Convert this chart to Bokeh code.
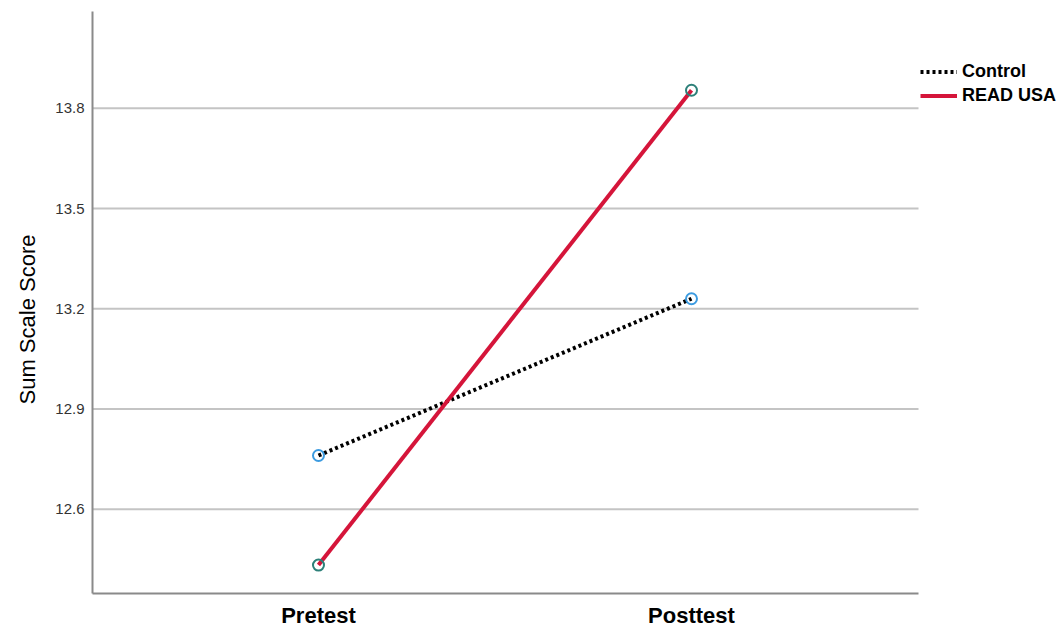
from bokeh.plotting import figure
from bokeh.models import Range1d, FixedTicker, Legend, LegendItem, Title
from bokeh.embed import file_html
from bokeh.resources import INLINE

categories = ["Pretest", "Posttest"]
control = [12.761, 13.230]
read_usa = [12.433, 13.854]
y_ticks = [12.6, 12.9, 13.2, 13.5, 13.8]
y_tick_labels = ["12.6", "12.9", "13.2", "13.5", "13.8"]
series_names = ["Control", "READ USA"]
y_title = "Sum Scale Score"

FONT = "Liberation Sans"

# category positions on a numeric axis (1, 2, ...)
xpos = list(range(1, len(categories) + 1))
X_START, X_END = 0.3941, 2.9893      # frame spans beyond the plot area to hold the legend
AREA_END = 2.6086                     # right edge of the visible plot area
Y_START, Y_END = 12.348, 14.0896

p = figure(
    width=1060, height=630,
    x_range=Range1d(X_START, X_END),
    y_range=Range1d(Y_START, Y_END),
    output_backend="svg", toolbar_location=None,
    min_border_left=92, min_border_right=0, min_border_top=11, min_border_bottom=36,
)
p.outline_line_color = None
p.background_fill_color = "white"
p.border_fill_color = "white"
p.xgrid.grid_line_color = None
p.ygrid.grid_line_color = None

# horizontal grid lines limited to the plot area
p.segment(x0=[X_START] * len(y_ticks), x1=[AREA_END] * len(y_ticks),
          y0=y_ticks, y1=y_ticks, line_color="#c4c4c4", line_width=2)

p.yaxis.ticker = FixedTicker(ticks=y_ticks)
p.yaxis.major_label_overrides = {t: l for t, l in zip(y_ticks, y_tick_labels)}
p.xaxis.ticker = FixedTicker(ticks=xpos)
p.xaxis.major_label_overrides = {x: c for x, c in zip(xpos, categories)}
p.xaxis.bounds = (X_START, AREA_END)

for ax in (p.xaxis, p.yaxis):
    ax.axis_line_color = "#8a8a8a"
    ax.axis_line_width = 2
    ax.major_tick_in = 0
    ax.major_tick_out = 0
    ax.minor_tick_line_color = None
    ax.major_tick_line_color = None

p.yaxis.major_label_text_font = FONT
p.yaxis.major_label_text_font_size = "15px"
p.yaxis.major_label_text_color = "#333333"
p.yaxis.major_label_standoff = 8

p.xaxis.major_label_text_font = FONT
p.xaxis.major_label_text_font_size = "22px"
p.xaxis.major_label_text_font_style = "bold"
p.xaxis.major_label_text_color = "black"
p.xaxis.major_label_standoff = 9

# y-axis title as a left-side title so it can be placed off-centre like the reference
p.add_layout(Title(text=y_title, align="left", offset=189, standoff=21,
                   vertical_align="top",
                   text_font=FONT, text_font_size="22px", text_font_style="normal",
                   text_color="black"), "left")

r_ctrl = p.line(xpos, control, line_color="black", line_width=4, line_dash="3 3")
r_read = p.line(xpos, read_usa, line_color="#d5153a", line_width=4)
p.scatter(xpos, control, size=11, marker="circle", fill_color=None,
          line_color="#3c9be0", line_width=2)
p.scatter(xpos, read_usa, size=11, marker="circle", fill_color=None,
          line_color="#2d8079", line_width=2)

legend = Legend(
    items=[LegendItem(label=series_names[0], renderers=[r_ctrl]),
           LegendItem(label=series_names[1], renderers=[r_read])],
    location=(828, 487),
    label_text_font=FONT, label_text_font_size="18px", label_text_font_style="bold",
    label_text_color="black",
    glyph_width=37, glyph_height=21, label_standoff=5, spacing=3,
    padding=0, margin=0, border_line_color=None, background_fill_alpha=0,
)
p.add_layout(legend, "center")

open("out.html", "w").write(file_html(p, INLINE))
